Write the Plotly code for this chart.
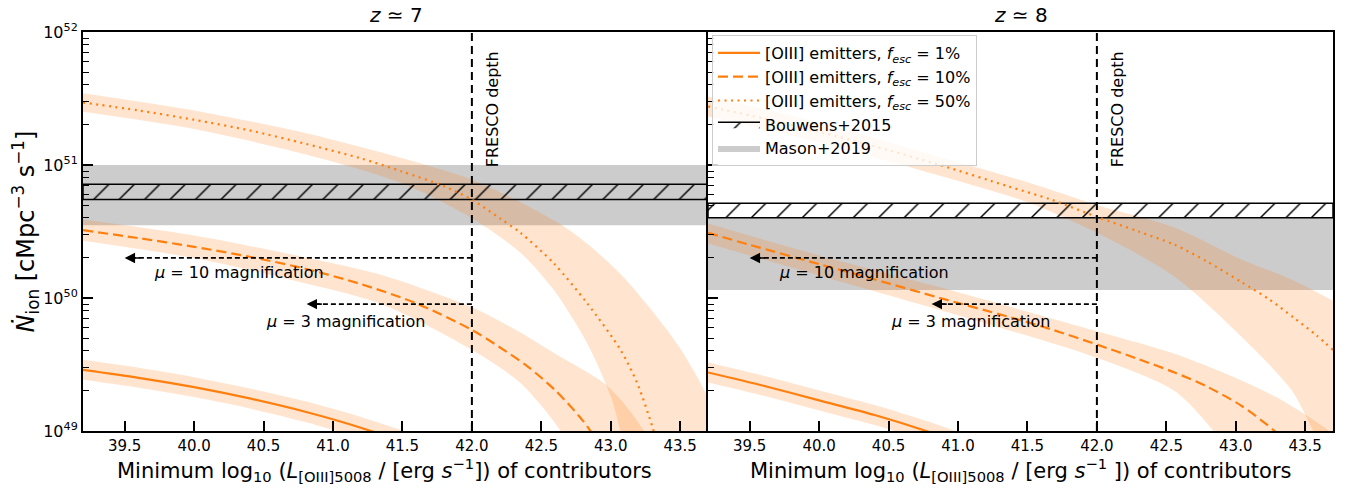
import numpy as np
import plotly.graph_objects as go

# ---------------- data (log10 of N_ion rate) ----------------
X_RANGE = [39.2, 43.7]
LOGY_RANGE = [49, 52]
XTICKS = [39.5, 40.0, 40.5, 41.0, 41.5, 42.0, 42.5, 43.0, 43.5]
XTICK_LABELS = ["39.5", "40.0", "40.5", "41.0", "41.5", "42.0", "42.5", "43.0", "43.5"]
YTICKS_LOG = [49, 50, 51, 52]
PANEL_TITLES = ["<i>z</i> ≃ 7", "<i>z</i> ≃ 8"]
FESC_LABELS = ["1%", "10%", "50%"]

# z ~ 7
z7_f1_x = [39.2, 39.6, 40.0, 40.4, 40.8, 41.2, 41.6, 42.0]
z7_f1_mid = [49.46, 49.40, 49.33, 49.245, 49.145, 49.025, 48.88, 48.69]
z7_f1_hi_x = z7_f1_x
z7_f1_hi = [49.535, 49.475, 49.405, 49.32, 49.223, 49.105, 48.965, 48.78]
z7_f1_lo_x = z7_f1_x
z7_f1_lo = [49.385, 49.325, 49.255, 49.17, 49.067, 48.945, 48.795, 48.60]

z7_f10_x = [39.2, 39.6, 40.0, 40.4, 40.8, 41.2, 41.6, 42.0, 42.2, 42.4, 42.6, 42.8, 43.0]
z7_f10_mid = [50.51, 50.45, 50.385, 50.31, 50.22, 50.105, 49.96, 49.76, 49.63, 49.486, 49.306, 49.076, 48.776]
z7_f10_hi_x = [39.2, 40.0, 40.64, 41.36, 42.0, 42.35, 42.6, 42.95, 43.1, 43.24, 43.4]
z7_f10_hi = [50.59, 50.47, 50.34, 50.17, 49.93, 49.74, 49.58, 49.36, 49.20, 49.0, 48.7]
z7_f10_lo_x = [39.2, 40.0, 40.64, 41.36, 42.0, 42.35, 42.64, 42.8]
z7_f10_lo = [50.43, 50.30, 50.15, 49.95, 49.61, 49.36, 49.0, 48.7]

z7_f50_x = [39.2, 39.6, 40.0, 40.4, 40.8, 41.2, 41.5, 41.8, 42.0, 42.2, 42.35, 42.59,
            42.83, 43.07, 43.19, 43.30, 43.36]
z7_f50_mid = [51.47, 51.41, 51.34, 51.26, 51.16, 51.05, 50.95, 50.84, 50.74, 50.60, 50.49, 50.26,
              49.96, 49.61, 49.36, 49.03, 48.80]
z7_f50_hi_x = [39.2, 40.0, 40.8, 41.5, 42.0, 42.35, 42.66, 42.84, 43.07, 43.3, 43.5, 43.7, 43.8]
z7_f50_hi = [51.54, 51.41, 51.24, 51.05, 50.89, 50.72, 50.54, 50.40, 50.18, 49.90, 49.62, 49.25, 48.95]
z7_f50_lo_x = [39.2, 40.0, 40.8, 41.5, 42.0, 42.35, 42.59, 42.83, 43.0, 43.07, 43.12]
z7_f50_lo = [51.40, 51.27, 51.08, 50.86, 50.60, 50.34, 50.06, 49.66, 49.26, 49.0, 48.8]

# z ~ 8
z8_f1_x = [39.2, 39.6, 40.0, 40.4, 40.8, 41.2, 41.6]
z8_f1_mid = [49.44, 49.34, 49.23, 49.12, 48.99, 48.84, 48.66]
z8_f1_hi_x = z8_f1_x
z8_f1_hi = [49.515, 49.415, 49.305, 49.195, 49.065, 48.915, 48.735]
z8_f1_lo_x = z8_f1_x
z8_f1_lo = [49.365, 49.265, 49.155, 49.045, 48.915, 48.765, 48.585]

z8_f10_x = [39.2, 39.5, 40.0, 40.5, 40.87, 41.36, 41.67, 42.0, 42.3, 42.56, 42.8, 43.04,
            43.28, 43.5, 43.7]
z8_f10_mid = [50.49, 50.40, 50.255, 50.11, 50.0, 49.86, 49.765, 49.65, 49.54, 49.44, 49.33, 49.19,
              49.0, 48.78, 48.55]
z8_f10_hi_x = [39.2, 40.0, 40.87, 42.0, 42.56, 43.04, 43.3, 43.52, 43.7]
z8_f10_hi = [50.56, 50.32, 50.08, 49.75, 49.58, 49.38, 49.25, 49.11, 48.98]
z8_f10_lo_x = [39.2, 40.0, 40.87, 42.0, 42.56, 42.84, 43.0]
z8_f10_lo = [50.41, 50.17, 49.91, 49.55, 49.30, 49.0, 48.78]

z8_f50_x = [39.2, 39.6, 40.0, 40.4, 40.87, 41.36, 41.67, 42.0, 42.3, 42.56, 42.8, 43.04,
            43.24, 43.42, 43.58, 43.7]
z8_f50_mid = [51.44, 51.35, 51.25, 51.14, 51.0, 50.84, 50.74, 50.61, 50.50, 50.40, 50.27, 50.12,
              49.99, 49.85, 49.72, 49.61]
z8_f50_hi_x = [39.2, 40.0, 40.87, 41.5, 42.0, 42.56, 43.04, 43.4, 43.7]
z8_f50_hi = [51.515, 51.32, 51.06, 50.87, 50.70, 50.53, 50.29, 50.14, 49.98]
z8_f50_lo_x = [39.2, 40.0, 40.87, 41.5, 42.0, 42.56, 43.04, 43.4, 43.52, 43.6, 43.7]
z8_f50_lo = [51.365, 51.17, 50.92, 50.72, 50.49, 50.16, 49.71, 49.31, 49.08, 48.9, 48.6]

# observational constraints (log10 ranges)
bouwens_z7 = [50.74, 50.855]
bouwens_z8 = [50.604, 50.712]
mason_z7 = [50.547, 51.0]
mason_z8 = [50.06, 50.604]

FRESCO_DEPTH = 42.0
MU10_LEVEL = 2e50
MU10_TIP = 39.5
MU3_LEVEL = 9e49
MU3_TIP = 40.81

# ---------------- styling ----------------
ORANGE = "#ff7f0e"
BAND = "rgba(255,127,14,0.2)"
GRAY = "rgba(128,128,128,0.4)"
FONT = "DejaVu Sans"
DASHES = ["solid", "10px,5px", "2px,4.5px"]

panels = [
    dict(curves=[(z7_f1_x, z7_f1_mid, z7_f1_hi_x, z7_f1_hi, z7_f1_lo_x, z7_f1_lo),
                 (z7_f10_x, z7_f10_mid, z7_f10_hi_x, z7_f10_hi, z7_f10_lo_x, z7_f10_lo),
                 (z7_f50_x, z7_f50_mid, z7_f50_hi_x, z7_f50_hi, z7_f50_lo_x, z7_f50_lo)],
         bouwens=bouwens_z7, mason=mason_z7),
    dict(curves=[(z8_f1_x, z8_f1_mid, z8_f1_hi_x, z8_f1_hi, z8_f1_lo_x, z8_f1_lo),
                 (z8_f10_x, z8_f10_mid, z8_f10_hi_x, z8_f10_hi, z8_f10_lo_x, z8_f10_lo),
                 (z8_f50_x, z8_f50_mid, z8_f50_hi_x, z8_f50_hi, z8_f50_lo_x, z8_f50_lo)],
         bouwens=bouwens_z8, mason=mason_z8),
]

fig = go.Figure()
annotations = []


def p10(v):
    return [10.0 ** a for a in v]


for i, pan in enumerate(panels):
    xa = "x" if i == 0 else "x2"
    ya = "y" if i == 0 else "y2"
    first = i == 0
    rx = [X_RANGE[0], X_RANGE[1], X_RANGE[1], X_RANGE[0], X_RANGE[0]]

    # Mason+2019 band
    lo, hi = pan["mason"]
    fig.add_trace(go.Scatter(x=rx, y=p10([lo, lo, hi, hi, lo]), xaxis=xa, yaxis=ya,
                             mode="lines", fill="toself", fillcolor=GRAY,
                             line=dict(width=0, color="rgba(0,0,0,0)"),
                             name="Mason+2019", showlegend=first, legendrank=5,
                             hoverinfo="skip"))
    # uncertainty bands (upper edge, then lower edge filled to it)
    for (cx, cm, hx, hv, lx, lv) in pan["curves"]:
        fig.add_trace(go.Scatter(x=list(hx), y=p10(hv), xaxis=xa, yaxis=ya, mode="lines",
                                 line=dict(width=0, color="rgba(0,0,0,0)", shape="spline",
                                           smoothing=0.8),
                                 showlegend=False, hoverinfo="skip"))
        fig.add_trace(go.Scatter(x=list(lx), y=p10(lv), xaxis=xa, yaxis=ya, mode="lines",
                                 fill="tonexty", fillcolor=BAND,
                                 line=dict(width=0, color="rgba(0,0,0,0)", shape="spline",
                                           smoothing=0.8),
                                 showlegend=False, hoverinfo="skip"))
    # Bouwens+2015 hatched band
    lo, hi = pan["bouwens"]
    fig.add_trace(go.Scatter(x=rx, y=p10([lo, lo, hi, hi, lo]), xaxis=xa, yaxis=ya,
                             mode="lines", fill="toself", fillcolor="rgba(0,0,0,0)",
                             fillpattern=dict(shape="/", fgcolor="black", fgopacity=1,
                                              bgcolor="rgba(0,0,0,0)", size=18,
                                              solidity=0.08),
                             line=dict(width=1.5, color="black"),
                             name="Bouwens+2015", showlegend=first, legendrank=4,
                             hoverinfo="skip"))
    # central curves
    for k, (cx, cm, hx, hv, lx, lv) in enumerate(pan["curves"]):
        fig.add_trace(go.Scatter(x=cx, y=p10(cm), xaxis=xa, yaxis=ya, mode="lines",
                                 line=dict(color=ORANGE, width=2.2, dash=DASHES[k],
                                           shape="spline", smoothing=0.8),
                                 name="[OIII] emitters, <i>f</i><sub><i>esc</i></sub> = " + FESC_LABELS[k],
                                 showlegend=first, legendrank=k + 1))
    # FRESCO depth
    fig.add_trace(go.Scatter(x=[FRESCO_DEPTH, FRESCO_DEPTH], y=p10(LOGY_RANGE),
                             xaxis=xa, yaxis=ya, mode="lines",
                             line=dict(color="black", width=2, dash="8px,5px"),
                             showlegend=False, hoverinfo="skip"))
    # magnification arrows
    for lev, tip in [(MU10_LEVEL, MU10_TIP), (MU3_LEVEL, MU3_TIP)]:
        fig.add_trace(go.Scatter(x=[FRESCO_DEPTH, tip + 0.05], y=[lev, lev],
                                 xaxis=xa, yaxis=ya, mode="lines",
                                 line=dict(color="black", width=1.7, dash="5px,3px"),
                                 showlegend=False, hoverinfo="skip"))
        annotations.append(dict(x=tip, y=np.log10(lev), xref=xa, yref=ya,
                                ax=tip + 0.12, ay=np.log10(lev), axref=xa, ayref=ya,
                                showarrow=True, arrowhead=2, arrowsize=1.3,
                                arrowwidth=1.6, arrowcolor="black", text=""))
    annotations.append(dict(x=39.70, y=50.19, xref=xa, yref=ya, xanchor="left",
                            yanchor="middle", showarrow=False,
                            text="<i>μ</i> = 10 magnification",
                            font=dict(family=FONT, size=16, color="black")))
    annotations.append(dict(x=40.50, y=49.82, xref=xa, yref=ya, xanchor="left",
                            yanchor="middle", showarrow=False,
                            text="<i>μ</i> = 3 magnification",
                            font=dict(family=FONT, size=16, color="black")))
    annotations.append(dict(x=42.15, y=51.417, xref=xa, yref=ya, xanchor="center",
                            yanchor="middle", showarrow=False, textangle=-90,
                            text="FRESCO depth",
                            font=dict(family=FONT, size=16, color="black")))
    annotations.append(dict(x=0.25 + 0.5 * i, y=1.0426, xref="paper", yref="paper",
                            xanchor="center", yanchor="middle", showarrow=False,
                            text=PANEL_TITLES[i],
                            font=dict(family=FONT, size=20, color="black")))

xt1 = "Minimum log<sub>10</sub> (<i>L</i><sub>[OIII]5008</sub> / [erg <i>s</i><sup>−1</sup>]) of contributors"
xt2 = "Minimum log<sub>10</sub> (<i>L</i><sub>[OIII]5008</sub> / [erg <i>s</i><sup>−1</sup> ]) of contributors"
for xc, txt in [(0.2408, xt1), (0.75, xt2)]:
    annotations.append(dict(x=xc, y=-0.0977, xref="paper", yref="paper",
                            xanchor="center", yanchor="middle", showarrow=False,
                            text=txt, font=dict(family=FONT, size=21, color="black")))

minor_vals = [m * 10.0 ** d for d in range(49, 52) for m in range(2, 10)]
yaxis_common = dict(type="log", range=LOGY_RANGE, showgrid=False, zeroline=False,
                    automargin=False,
                    showline=True, linecolor="black", linewidth=2,
                    ticks="inside", ticklen=10, tickwidth=1.5, tickcolor="black",
                    tickmode="array", tickvals=[10.0 ** v for v in YTICKS_LOG],
                    ticktext=["10<sup>%d</sup>" % v for v in YTICKS_LOG],
                    minor=dict(tickmode="array", tickvals=minor_vals, ticks="inside",
                               ticklen=6, tickwidth=1.2, tickcolor="black"),
                    tickfont=dict(family=FONT, size=16, color="black"))
xaxis_common = dict(range=X_RANGE, showgrid=False, zeroline=False, showline=True,
                    automargin=False,
                    linecolor="black", linewidth=2, mirror=True, ticks="inside",
                    ticklen=10, tickwidth=1.5, tickcolor="black", tickmode="array",
                    tickvals=XTICKS, ticktext=XTICK_LABELS,
                    tickfont=dict(family=FONT, size=15, color="black"))

fig.update_layout(
    width=1351, height=489,
    margin=dict(l=83, r=18, t=32, b=58),
    paper_bgcolor="white", plot_bgcolor="white",
    font=dict(family=FONT, color="black"),
    xaxis=dict(domain=[0, 0.5], anchor="y", **xaxis_common),
    xaxis2=dict(domain=[0.5, 1.0], anchor="y2", **xaxis_common),
    yaxis=dict(domain=[0, 1], anchor="x", mirror=False,
               title=dict(text="<i>Ṅ</i><sub>ion</sub> [cMpc<sup>−3</sup> s<sup>−1</sup>]",
                          font=dict(family=FONT, size=24), standoff=2),
               **yaxis_common),
    yaxis2=dict(domain=[0, 1], anchor="x2", matches="y", showticklabels=False,
                mirror=True, **yaxis_common),
    legend=dict(x=0.5032, y=0.9925, xanchor="left", yanchor="top",
                bgcolor="rgba(255,255,255,0.8)", bordercolor="#cccccc", borderwidth=1,
                font=dict(family=FONT, size=16, color="black"), itemwidth=42,
                traceorder="normal"),
    annotations=annotations,
    showlegend=True,
)

fig.write_html("out.html", config={"displayModeBar": False},
               post_script="document.body.style.margin='0px';document.body.style.overflow='hidden';")
